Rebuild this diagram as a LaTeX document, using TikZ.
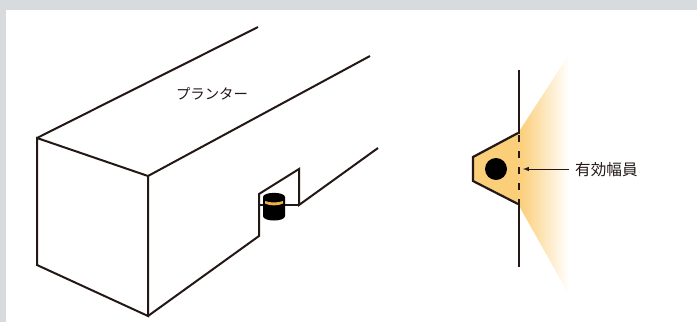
\documentclass[tikz,border=0pt]{standalone}
\usepackage{fontspec}
\newfontfamily\cjk{Noto Sans CJK JP}
\definecolor{framegray}{HTML}{D8DBDE}
\definecolor{amberfill}{HTML}{FBCF7A}
\definecolor{amberband}{HTML}{EDB04A}
\definecolor{linedark}{HTML}{231815}
\pgfdeclarehorizontalshading{beamfade}{100bp}{color(0bp)=(amberfill); color(25bp)=(amberfill); color(31bp)=(amberfill!92!white); color(72bp)=(white); color(100bp)=(white)}
\tikzset{
  outline/.style={draw=linedark,line width=2pt,line join=miter},
  wall/.style={draw=linedark,line width=2pt},
  lbl/.style={inner sep=0pt,text=linedark},
}
\begin{document}
\begin{tikzpicture}[x=1pt,y=-1pt]
\useasboundingbox (0,0) rectangle (697,322);
\fill[white] (0,0) rectangle (697,322);
\fill[framegray] (0,0) rectangle (697,10);
\fill[framegray] (0,0) rectangle (6,322);
% planter
\coordinate (a) at (37,138);
\coordinate (b) at (148,176);
\coordinate (c) at (148,316);
\coordinate (d) at (37,265);
\coordinate (e) at (258,27);
\coordinate (f) at (370,56);
\coordinate (g) at (259,236);
\coordinate (h) at (259,194);
\coordinate (i) at (299,169);
\coordinate (j) at (299,205);
\coordinate (k) at (378,148);
\coordinate (l) at (259,205);
\draw[outline] (a) -- (b) -- (c) -- (d) -- cycle;
\draw[outline] (a) -- (e);
\draw[outline] (b) -- (f);
\draw[outline] (c) -- (g) -- (h) -- (i) -- (j) -- (k);
\draw[outline] (l) -- (j);
\node[lbl,font=\cjk\fontsize{14.4}{16}\selectfont] (planter) at (212,94) {プランター};
% sensor
\fill[black] (263,197) -- (263,216) .. controls (263,222) and (285,222) .. (285,216) -- (285,197) .. controls (285,191.5) and (263,191.5) .. (263,197) -- cycle;
\path[fill=amberband] (265,201) .. controls (270,203) and (278,203) .. (283,201) -- (283,203.5) .. controls (278,206) and (270,206) .. (265,203.5) -- cycle;
% beam
\path[shade,shading=beamfade] (518,133) -- (572,50) -- (572,300) -- (518,204) -- cycle;
\fill[amberfill] (518,133) -- (473,157) -- (473,181) -- (518,204) -- cycle;
\draw[outline,line width=2.2pt] (518,133) -- (473,157) -- (473,181) -- (518,204);
\coordinate (wt) at (518.5,70);
\coordinate (wa) at (518.5,134);
\coordinate (wb) at (518.5,204);
\coordinate (wc) at (518.5,267);
\draw[wall] (wt) -- (wa);
\draw[wall] (wb) -- (wc);
\draw[wall,dash pattern=on 7pt off 9pt] (518.5,135) -- (wb);
\node[circle,fill=black,minimum size=22pt,inner sep=0pt] (sensor) at (496,169) {};
\node[lbl,font=\cjk\fontsize{15.6}{17}\selectfont,anchor=west] (width) at (575,169.5) {有効幅員};
\coordinate (tip) at (523,169);
\draw[linedark,line width=1pt,-latex] (569,169) -- (tip);
\end{tikzpicture}
\end{document}
